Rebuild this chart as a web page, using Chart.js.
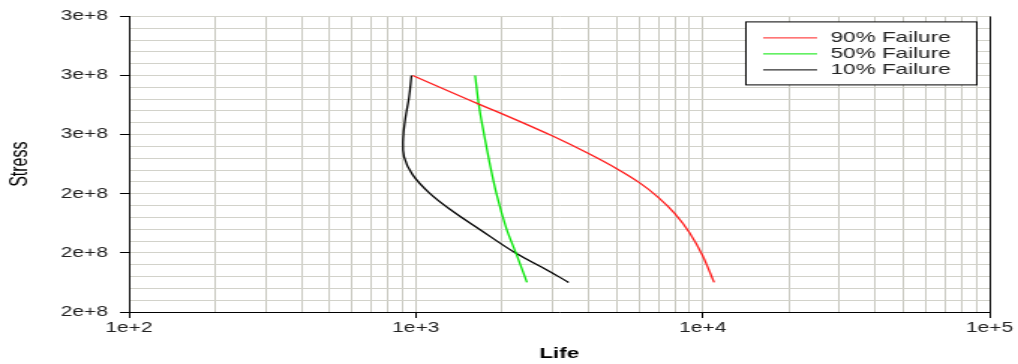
<!DOCTYPE html>
<html>
<head>
<meta charset="utf-8">
<script src="https://cdn.jsdelivr.net/npm/chart.js@4.4.1/dist/chart.umd.min.js"></script>
<style>
html,body{margin:0;padding:0;background:#fff;overflow:hidden;}
/* drawn narrow, shown 1.5x wide */
#wrap{width:679px;height:364px;transform:scaleX(1.4993);transform-origin:0 0;}
</style>
</head>
<body>
<div id="wrap"><canvas id="lifeChart" width="679" height="364"></canvas></div>
<script>

/* DATA */

const seriesNames=["90% Failure","50% Failure","10% Failure"];
const seriesColors=["#ff1e1e","#00e600","#000000"];

const life90=[975,1650,2000,3000,4000,5000,6000,7000,8000,9000,10000,10960];
const stress90=[2.75e8,2.63e8,2.588e8,2.494e8,2.42e8,2.357e8,2.298e8,2.235e8,2.166e8,2.085e8,1.988e8,1.875e8];

const life50=[1610,1657,1734,1805,1914,2064,2236,2440];
const stress50=[2.75e8,2.629e8,2.494e8,2.385e8,2.246e8,2.107e8,1.998e8,1.875e8];

const life10=[966,947,921,903,910,974,1116,1345,1666,2236,2844,3410];
const stress10=[2.75e8,2.657e8,2.574e8,2.482e8,2.406e8,2.331e8,2.253e8,2.176e8,2.10e8,1.998e8,1.93e8,1.875e8];

const xTickValues=[1e2,1e3,1e4,1e5];
const xTickLabels=["1e+2","1e+3","1e+4","1e+5"];
const yTickValues=[1.75e8,2.0e8,2.25e8,2.5e8,2.75e8,3.0e8];
const yTickLabels=["2e+8","2e+8","2e+8","3e+8","3e+8","3e+8"];


/* GRID LINES */

// every 1..9 x decade on the log axis
const xGrid=[];
for(let e=2;e<5;e++){
for(let m=1;m<10;m++) xGrid.push(m*Math.pow(10,e));
}
xGrid.push(1e5);

// five steps between labelled stress values
const yGrid=[];
for(let k=0;k<=25;k++) yGrid.push(175000000+k*5000000);

const isMajorX=v=>xTickValues.includes(v);
const isMajorY=v=>yTickValues.includes(v);


/* LEGEND IN A BOX */

const boxLegend={
id:"boxLegend",
afterDraw(chart){
const {ctx,chartArea}=chart;
const w=154,h=63;
const x=chartArea.right-9-w;
const y=chartArea.top+5;
ctx.save();
ctx.fillStyle="#fff";
ctx.fillRect(x+0.5,y+0.5,w,h);
ctx.strokeStyle="#000";
ctx.lineWidth=1;
ctx.strokeRect(x+0.5,y+0.5,w,h);
ctx.font='15px "Liberation Sans"';
ctx.textBaseline="middle";
chart.data.datasets.forEach((ds,i)=>{
const ly=y+16+i*16;
ctx.strokeStyle=ds.borderColor;
ctx.lineWidth=1;
ctx.beginPath();
ctx.moveTo(x+12,ly+0.5);
ctx.lineTo(x+48,ly+0.5);
ctx.stroke();
ctx.fillStyle="#222";
ctx.fillText(ds.label,x+57,ly);
});
ctx.restore();
}
};


/* CHART */

const toPoints=(xs,ys)=>xs.map((v,i)=>({x:v,y:ys[i]}));

Chart.defaults.font.family='"Liberation Sans", Arial, sans-serif';
Chart.defaults.color="#222";

const lineStyle={showLine:true,borderWidth:1.3,pointRadius:0,pointHoverRadius:0,fill:false};

new Chart(document.getElementById("lifeChart"),{

type:"scatter",

data:{
datasets:[
Object.assign({label:seriesNames[0],data:toPoints(life90,stress90),borderColor:seriesColors[0],cubicInterpolationMode:"monotone"},lineStyle),
Object.assign({label:seriesNames[1],data:toPoints(life50,stress50),borderColor:seriesColors[1],cubicInterpolationMode:"monotone"},lineStyle),
// turns back on itself near the top, so plain bezier smoothing
Object.assign({label:seriesNames[2],data:toPoints(life10,stress10),borderColor:seriesColors[2],tension:0.4},lineStyle)
]
},

options:{
responsive:false,
animation:false,
devicePixelRatio:1,
layout:{padding:{top:13,right:19,bottom:0,left:0}},
plugins:{legend:{display:false},tooltip:{enabled:false}},
scales:{
x:{
type:"logarithmic",
min:1e2,
max:1e5,
afterBuildTicks:s=>{s.ticks=xGrid.map(v=>({value:v}));},
afterFit:s=>{s.height=52;},
ticks:{
autoSkip:false,
maxRotation:0,
padding:2,
font:{size:14},
color:"#222",
callback:v=>{const i=xTickValues.indexOf(v);return i<0?"":xTickLabels[i];}
},
grid:{
color:c=>c.tick&&c.tick.value===1e5?"#000":"#c9c9c0",
lineWidth:1,
tickLength:6,
tickColor:c=>c.tick&&isMajorX(c.tick.value)?"#000":"rgba(0,0,0,0)"
},
border:{color:"#000",width:1},
title:{display:true,text:"Life",color:"#000",font:{size:15,weight:"bold"},padding:{top:0,bottom:1}}
},
y:{
type:"linear",
min:1.75e8,
max:3.0e8,
afterBuildTicks:s=>{s.ticks=yGrid.map(v=>({value:v}));},
afterFit:s=>{s.width=86;},
ticks:{
autoSkip:false,
padding:8,
font:{size:14},
color:"#222",
callback:v=>{const i=yTickValues.indexOf(v);return i<0?"":yTickLabels[i];}
},
grid:{
color:"#d2d2ca",
lineWidth:1,
tickLength:6,
tickColor:c=>c.tick&&isMajorY(c.tick.value)?"#000":"rgba(0,0,0,0)"
},
border:{color:"#000",width:1},
title:{display:true,text:"Stress",color:"#000",font:{size:16},padding:4}
}
}
},

plugins:[boxLegend]

});

</script>
</body>
</html>
